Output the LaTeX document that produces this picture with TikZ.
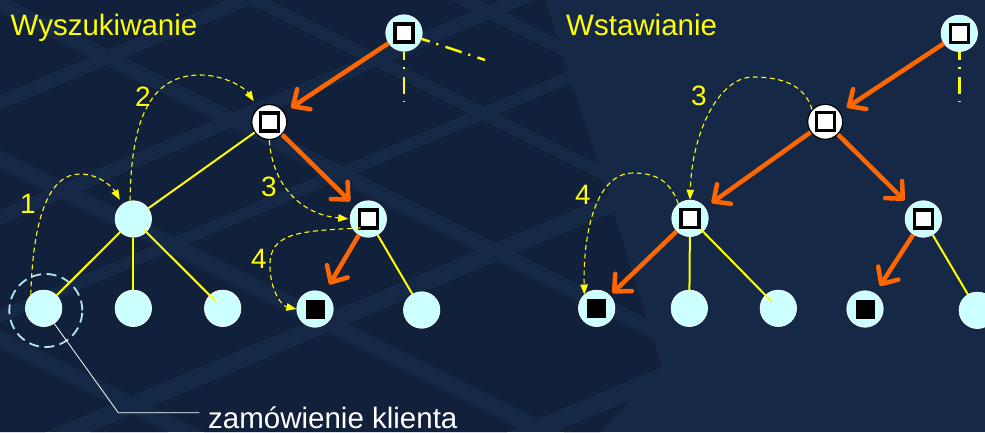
\documentclass[tikz,border=0pt]{standalone}
\usepackage{fontspec}
\setmainfont{Liberation Sans}
\usetikzlibrary{arrows.meta,calc}

\definecolor{bgbase}{HTML}{152947}
\definecolor{bgdark}{HTML}{11213B}
\definecolor{nodecyan}{HTML}{CCFFFF}
\definecolor{treeyellow}{HTML}{FFFF00}
\definecolor{pathorange}{HTML}{FF6600}
\definecolor{ringcyan}{HTML}{B0E8F2}

\tikzset{
  tnode/.style={circle, fill=nodecyan, draw=white, line width=0.6pt,
    minimum size=36.5pt, inner sep=0pt},
  wnode/.style={circle, fill=white, draw=black, line width=1.2pt,
    minimum size=35pt, inner sep=0pt},
  keybox/.style={path picture={
    \draw[black, line width=3.3pt, fill=white]
      ([shift={(-9pt,-9pt)}]path picture bounding box.center) rectangle
      ([shift={(9pt,9pt)}]path picture bounding box.center);}},
  fullbox/.style={path picture={
    \fill[black]
      ([shift={(-9.5pt,-9.5pt)}]path picture bounding box.center) rectangle
      ([shift={(9.5pt,9.5pt)}]path picture bounding box.center);}},
  link/.style={treeyellow, line width=2pt},
  route/.style={pathorange, line width=4.5pt,
    -{Straight Barb[length=13pt,width=24pt,round]}},
  hop/.style={treeyellow, line width=1.1pt, dash pattern=on 5pt off 3.5pt,
    -{Triangle[length=10pt,width=7.5pt]}},
  upper/.style={treeyellow, line width=2.5pt,
    dash pattern=on 17pt off 7pt on 2pt off 7.7pt, dash phase=8.5pt},
  numlabel/.style={treeyellow, inner sep=0pt, font=\fontsize{28}{30}\selectfont},
  title/.style={treeyellow, inner sep=0pt, anchor=base west,
    font=\fontsize{29.5}{32}\selectfont},
}

\begin{document}
\begin{tikzpicture}[x=1pt,y=-1pt]
\useasboundingbox (0,0) rectangle (985,432);
% ---------- background: navy floor with darker perspective tiles ----------
\fill[bgbase] (0,0) rectangle (985,432);
\begin{scope}
  \clip (0,0) -- (545,0) -- (602,175) -- (662,367) -- (600,432) -- (0,432) -- cycle;
  \foreach \ua/\ub in {0/95,110/210,225/310,323/451,470/645,665/900}{
    \foreach \da/\db in {-330/-240,-225/-135,-121/-5,12/150,168/330,348/520}{
      \fill[bgdark]
        ({(\ua-\da)/0.92},{0.5*(\ua-\da)/0.92+\da}) --
        ({(\ua-\db)/0.92},{0.5*(\ua-\db)/0.92+\db}) --
        ({(\ub-\db)/0.92},{0.5*(\ub-\db)/0.92+\db}) --
        ({(\ub-\da)/0.92},{0.5*(\ub-\da)/0.92+\da}) -- cycle;
    }
  }
\end{scope}

% ---------- titles ----------
\node[title] (t1) at (10.5,35.5) {Wyszukiwanie};
\node[title] (t2) at (566,35.5) {Wstawianie};

% ---------- left tree (search) ----------
\node[tnode, keybox] (R) at (404,33) {};
\node[wnode, keybox] (A) at (269.3,122) {};
\node[tnode] (B) at (133.3,219) {};
\node[tnode, keybox] (C) at (368.3,219) {};
\node[tnode] (L1) at (43.7,308.3) {};
\node[tnode] (L2) at (133.3,308.3) {};
\node[tnode] (L3) at (222.7,308.3) {};
\node[tnode, fullbox] (L4) at (315,309) {};
\node[tnode] (L5) at (421.7,310) {};

\node[circle, draw=ringcyan, line width=1.8pt, dash pattern=on 10pt off 5.5pt,
      minimum size=73pt, inner sep=0pt] (ring) at (45.8,310.5) {};

\coordinate (Rtail) at (485,60);
\coordinate (Rdown) at (404,102);
\draw[upper] (R) -- (Rtail);
\draw[upper] (R) -- (Rdown);

\draw[link] (A) -- (B);
\draw[link] (B) -- (L1);
\draw[link] (B) -- (L2);
\draw[link, shorten <=15pt, shorten >=10pt] (B.center) -- (L3.center);
\draw[link] (C) -- (L5);

\draw[route, shorten >=8pt] (R) -- (A);
\draw[route, shorten >=7pt] (A) -- (C);
\draw[route, shorten >=10pt] (C) -- (L4);

\draw[hop, shorten >=5pt] (L1.134) .. controls (33,215) and (50,174) .. (80,174)
  .. controls (100,174) and (113,188) .. (B.126);
\draw[hop, shorten >=8pt] (B.100) .. controls (131,120) and (150,75) .. (200,75)
  .. controls (225,75) and (245,88) .. (A.128);
\draw[hop, shorten >=1.5pt] (A.south) .. controls (272,182) and (298,214) .. (C.west);
\draw[hop] ($(C)+(-8,9)$) .. controls (300,231) and (268,232) .. (270,268)
  .. controls (271,292) and (282,306) .. (L4.west);

\node[numlabel] (n1) at (28,204) {1};
\node[numlabel] (n2) at (143,97) {2};
\node[numlabel] (n3) at (269,187) {3};
\node[numlabel] (n4) at (259,259) {4};

% note on the customer order
\coordinate (elbow) at (118.3,412.7);
\coordinate (noteend) at (199.3,412.7);
\draw[white, line width=0.8pt] ($(L1.center)+(8,11.7)$) -- (elbow) -- (noteend);
\node[anchor=base west, inner sep=0pt, white, font=\fontsize{29.5}{32}\selectfont]
  (note) at (208,428.3) {zamówienie klienta};

% ---------- right tree (insertion) ----------
\node[tnode, keybox] (RR) at (959.3,33.3) {};
\node[wnode, keybox] (AA) at (825.2,121.8) {};
\node[tnode, keybox] (BB) at (690,218.3) {};
\node[tnode, keybox] (CC) at (923.3,219) {};
\node[tnode, fullbox] (M1) at (596.7,308.3) {};
\node[tnode] (M2) at (689.3,308.3) {};
\node[tnode] (M3) at (778.3,308.3) {};
\node[tnode, fullbox] (M4) at (865,309) {};
\node[tnode] (M5) at (977.3,310.3) {};

\coordinate (RRdown) at (959.3,102);
\draw[upper] (RR) -- (RRdown);

\draw[link] (BB) -- (M2);
\draw[link, shorten <=15pt, shorten >=10pt] (BB.center) -- (M3.center);
\draw[link] (CC) -- (M5);

\draw[route, shorten >=8pt] (RR) -- (AA);
\draw[route, shorten >=8pt] (AA) -- (BB);
\draw[route, shorten >=8pt] (AA) -- (CC);
\draw[route, shorten >=3.5pt] (BB) -- (M1);
\draw[route, shorten >=9pt] (CC) -- (M4);

\draw[hop] (AA.137) .. controls (805,85) and (782,77) .. (753,77)
  .. controls (720,77) and (692,130) .. (BB.north);
\draw[hop] (BB.129) .. controls (670,180) and (655,173) .. (633,173)
  .. controls (597,173) and (583,230) .. (M1.132);

\node[numlabel] (m3) at (699,96) {3};
\node[numlabel] (m4) at (583,195) {4};
\end{tikzpicture}
\end{document}
